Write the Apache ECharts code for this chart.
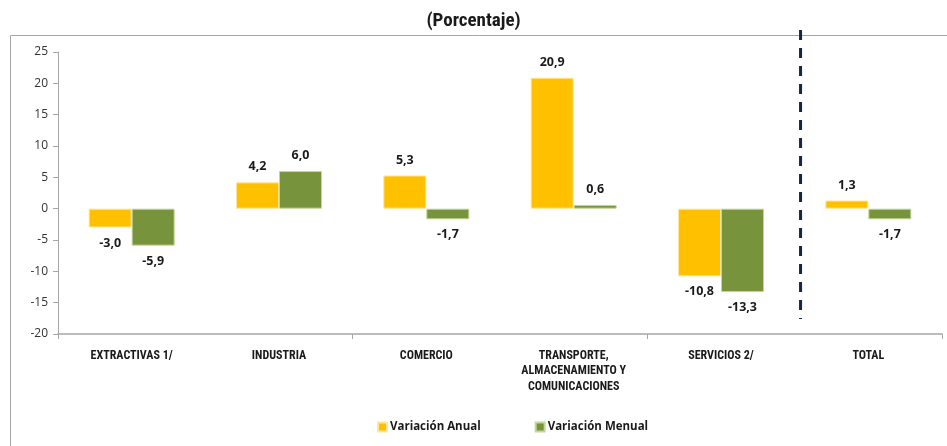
<!DOCTYPE html>
<html><head><meta charset="utf-8">
<script src="https://cdn.jsdelivr.net/npm/echarts@6/dist/echarts.min.js"></script>
<style>html,body{margin:0;padding:0;background:#fff}#c{width:947px;height:446px}</style>
</head><body><div id="c"></div>
<script>
const categories = ['EXTRACTIVAS 1/', 'INDUSTRIA', 'COMERCIO', 'TRANSPORTE,\nALMACENAMIENTO Y\nCOMUNICACIONES', 'SERVICIOS 2/', 'TOTAL'];
const anual = [-3.0, 4.2, 5.3, 20.9, -10.8, 1.3];
const menual = [-5.9, 6.0, -1.7, 0.6, -13.3, -1.7];
const yTicks = [-20, -15, -10, -5, 0, 5, 10, 15, 20, 25];
const dividerX = 5.04;
const dividerLine = [[dividerX, 28.5], [dividerX, -17.6]];

const FONT = "'Liberation Sans Narrow','Roboto Condensed','Open Sans',sans-serif";
const fmt = v => v.toFixed(1).replace('.', ',');
const mk = arr => arr.map(v => ({value: v, label: {position: v < 0 ? 'bottom' : 'top'}}));

const chart = echarts.init(document.getElementById('c'));
chart.setOption({
  animation: false,
  title: {text: '(Porcentaje)', left: 'center', top: 7,
    textStyle: {fontFamily: FONT, fontSize: 19, fontWeight: 'bold', color: '#1a1a1a'}},
  graphic: [{type: 'rect', shape: {x: 10.5, y: 35.5, width: 960, height: 430},
    style: {fill: 'none', stroke: '#a6a6a6', lineWidth: 1}, silent: true, z: -1}],
  grid: {left: 58, right: 5, top: 52, bottom: 112},
  legend: {bottom: 8, left: 372, itemWidth: 9, itemHeight: 9, itemGap: 54, icon: 'rect',
    textStyle: {fontFamily: "'Open Sans',sans-serif", fontSize: 11.5, color: '#1a1a1a', fontWeight: 'bold', padding: [0, 0, 0, -2]},
    data: ['Variación Anual', 'Variación Menual']},
  xAxis: [
    {type: 'category', data: categories, position: 'bottom',
      axisLine: {show: false}, axisTick: {show: false},
      axisLabel: {interval: 0, margin: 14, fontFamily: FONT, fontSize: 12, fontWeight: 'bold', color: '#1a1a1a', lineHeight: 15.5}},
    {type: 'category', data: categories, position: 'bottom',
      axisLine: {onZero: true, lineStyle: {color: '#a6a6a6', width: 1.5}},
      axisTick: {show: true, length: 5, lineStyle: {color: '#a6a6a6'}},
      axisLabel: {show: false}},
    {type: 'value', min: 0, max: 6, show: false}
  ],
  yAxis: {type: 'value', min: yTicks[0], max: yTicks[yTicks.length - 1], interval: 5,
    axisLine: {show: true, lineStyle: {color: '#a6a6a6'}},
    axisTick: {show: true, length: 5, lineStyle: {color: '#a6a6a6'}},
    splitLine: {show: false},
    axisLabel: {fontFamily: "'Open Sans',sans-serif", fontSize: 12, color: '#333', margin: 10}},
  series: [
    {name: 'Variación Anual', type: 'bar', xAxisIndex: 0, data: mk(anual), barWidth: 43, barGap: '0%',
      itemStyle: {color: '#FFC000', borderColor: '#ffe699', borderWidth: 1},
      label: {show: true, formatter: p => fmt(p.value), distance: 9,
        fontFamily: "'Open Sans',sans-serif", fontSize: 12.5, fontWeight: 'bold', color: '#1a1a1a'}},
    {name: 'Variación Menual', type: 'bar', xAxisIndex: 0, data: mk(menual), barWidth: 43, barGap: '0%',
      itemStyle: {color: '#77933C', borderColor: '#c4d79b', borderWidth: 1},
      label: {show: true, formatter: p => fmt(p.value), distance: 9,
        fontFamily: "'Open Sans',sans-serif", fontSize: 12.5, fontWeight: 'bold', color: '#1a1a1a'}},
    {name: 'divider', type: 'line', xAxisIndex: 2, data: dividerLine, symbol: 'none', clip: false,
      lineStyle: {color: '#17263c', width: 3, type: [10, 8]}, silent: true, z: 5}
  ]
});
</script></body></html>
